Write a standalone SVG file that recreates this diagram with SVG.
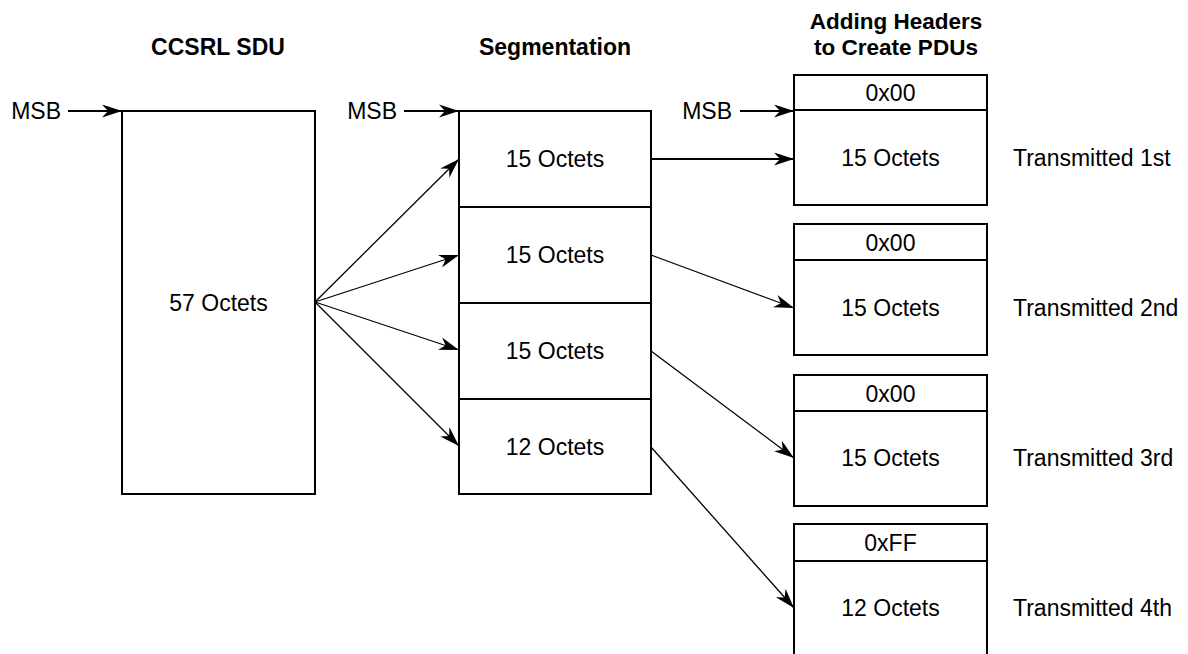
<svg xmlns="http://www.w3.org/2000/svg" width="1188" height="654" viewBox="0 0 1188 654">
  <style>
    text { font-family: "Liberation Sans", Arial, Helvetica, sans-serif; font-size: 23px; fill: #000; }
    .title { font-weight: bold; text-anchor: middle; }
    .title2 { font-size: 22.5px; }
    .mid { text-anchor: middle; }
    .end { text-anchor: end; }
    .box { fill: #fff; stroke: #000; stroke-width: 2; }
    .div { stroke: #000; stroke-width: 2; fill: none; }
    .msb { stroke: #000; stroke-width: 1.8; fill: none; marker-end: url(#arrow); }
    .link { stroke: #000; stroke-width: 1.3; fill: none; marker-end: url(#arrow); }
    .link2 { stroke: #000; stroke-width: 2; fill: none; marker-end: url(#arrow); }
  </style>
  <defs>
    <marker id="arrow" markerUnits="userSpaceOnUse" markerWidth="24" markerHeight="16" viewBox="-21 -8 22 16" refX="0" refY="0" orient="auto">
      <path d="M0,0 L-20,-6.5 L-14,0 L-20,6.5 Z" fill="#000"/>
    </marker>
  </defs>

  <!-- column titles -->
  <g id="titles">
    <text class="title" x="218" y="55">CCSRL SDU</text>
    <text class="title" x="555" y="55">Segmentation</text>
    <text class="title title2" x="896" y="29">Adding Headers</text>
    <text class="title title2" x="896" y="54.5">to Create PDUs</text>
  </g>

  <!-- service data unit -->
  <g id="sdu">
    <rect class="box" x="122" y="111" width="193" height="383"/>
    <text class="mid" x="218.5" y="311">57 Octets</text>
  </g>

  <!-- segmented data -->
  <g id="segments">
    <rect class="box" x="459" y="111" width="192" height="383"/>
    <line class="div" x1="459" y1="207" x2="651" y2="207"/>
    <line class="div" x1="459" y1="303" x2="651" y2="303"/>
    <line class="div" x1="459" y1="399" x2="651" y2="399"/>
    <text class="mid" x="555" y="167">15 Octets</text>
    <text class="mid" x="555" y="263">15 Octets</text>
    <text class="mid" x="555" y="359">15 Octets</text>
    <text class="mid" x="555" y="455">12 Octets</text>
  </g>

  <!-- protocol data units -->
  <g id="pdu1">
    <rect class="box" x="794" y="75" width="193" height="130"/>
    <line class="div" x1="794" y1="110" x2="987" y2="110"/>
    <text class="mid" x="890.5" y="101">0x00</text>
    <text class="mid" x="890.5" y="166">15 Octets</text>
    <text x="1013" y="166">Transmitted 1st</text>
  </g>
  <g id="pdu2">
    <rect class="box" x="794" y="224" width="193" height="131"/>
    <line class="div" x1="794" y1="260" x2="987" y2="260"/>
    <text class="mid" x="890.5" y="250.5">0x00</text>
    <text class="mid" x="890.5" y="316">15 Octets</text>
    <text x="1013" y="316">Transmitted 2nd</text>
  </g>
  <g id="pdu3">
    <rect class="box" x="794" y="375" width="193" height="131"/>
    <line class="div" x1="794" y1="411" x2="987" y2="411"/>
    <text class="mid" x="890.5" y="401.5">0x00</text>
    <text class="mid" x="890.5" y="466">15 Octets</text>
    <text x="1013" y="466">Transmitted 3rd</text>
  </g>
  <g id="pdu4">
    <rect class="box" x="794" y="524" width="193" height="134"/>
    <line class="div" x1="794" y1="561" x2="987" y2="561"/>
    <text class="mid" x="890.5" y="551">0xFF</text>
    <text class="mid" x="890.5" y="616">12 Octets</text>
    <text x="1013" y="616">Transmitted 4th</text>
  </g>

  <!-- MSB markers -->
  <g id="msb-labels">
    <text class="end" x="61" y="119">MSB</text>
    <text class="end" x="397" y="119">MSB</text>
    <text class="end" x="732" y="119">MSB</text>
  </g>

  <g id="connectors">
    <line class="msb" x1="68" y1="111" x2="122" y2="111"/>
    <line class="msb" x1="404" y1="111" x2="459" y2="111"/>
    <line class="msb" x1="740" y1="111" x2="794" y2="111"/>

    <!-- SDU split into segments -->
    <line class="link" x1="315" y1="302" x2="459" y2="159"/>
    <line class="link" x1="315" y1="302" x2="459" y2="255"/>
    <line class="link" x1="315" y1="302" x2="459" y2="350"/>
    <line class="link" x1="315" y1="302" x2="459" y2="446"/>

    <!-- segments into PDUs -->
    <line class="link2" x1="651" y1="159" x2="794" y2="159"/>
    <line class="link" x1="651" y1="255" x2="794" y2="308"/>
    <line class="link" x1="651" y1="351" x2="794" y2="458"/>
    <line class="link" x1="651" y1="447" x2="794" y2="608"/>
  </g>
</svg>
